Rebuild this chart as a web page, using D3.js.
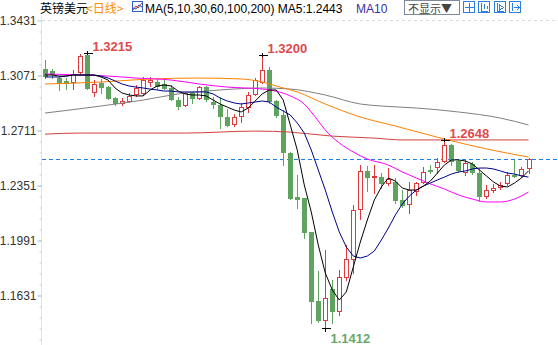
<!DOCTYPE html>
<html>
<head>
<meta charset="utf-8">
<script src="https://cdn.jsdelivr.net/npm/d3@7"></script>
<style>
  body { margin: 0; background: #fff; }
  svg { display: block; font-family: "Liberation Sans", Arial, sans-serif; }
</style>
</head>
<body>
<div id="chart"></div>
<script>
// 1: DATA (GBP/USD daily candles)
const opens = [1.3110, 1.3097, 1.3051, 1.3032, 1.3025, 1.3091, 1.3202, 1.2960, 1.3019, 1.2992,
  1.2920, 1.2888, 1.2901, 1.2947, 1.2953, 1.3025, 1.3025, 1.3012, 1.2986, 1.2907,
  1.2874, 1.2953, 1.2920, 1.2992, 1.2894, 1.2874, 1.2796, 1.2750, 1.2803, 1.2861,
  1.2947, 1.3025, 1.3104, 1.2901, 1.2809, 1.2560, 1.2272, 1.2266, 1.2043, 1.1592,
  1.1467, 1.1670, 1.1526, 1.1749, 1.1867, 1.2194, 1.2443, 1.2403, 1.2403, 1.2364,
  1.2371, 1.2253, 1.2227, 1.2312, 1.2371, 1.2449, 1.2469, 1.2508, 1.2613, 1.2508,
  1.2436, 1.2488, 1.2429, 1.2279, 1.2318, 1.2338, 1.2364, 1.2416, 1.2416, 1.2462];
const highs = [1.3169, 1.3110, 1.3058, 1.3051, 1.3104, 1.3208, 1.3215, 1.3038, 1.3045, 1.2999,
  1.2927, 1.2920, 1.2953, 1.3006, 1.3058, 1.3058, 1.3045, 1.3051, 1.3006, 1.2927,
  1.2960, 1.2960, 1.2999, 1.2999, 1.2927, 1.2927, 1.2848, 1.2816, 1.2888, 1.2960,
  1.3051, 1.3200, 1.3123, 1.2907, 1.2842, 1.2567, 1.2416, 1.2266, 1.2043, 1.1788,
  1.1925, 1.1729, 1.1795, 1.1958, 1.2220, 1.2482, 1.2475, 1.2482, 1.2429, 1.2462,
  1.2397, 1.2318, 1.2371, 1.2371, 1.2469, 1.2482, 1.2528, 1.2648, 1.2619, 1.2515,
  1.2515, 1.2501, 1.2462, 1.2351, 1.2358, 1.2371, 1.2436, 1.2515, 1.2469, 1.2528];
const lows = [1.3051, 1.3051, 1.2973, 1.2979, 1.2979, 1.3078, 1.2979, 1.2934, 1.2953, 1.2914,
  1.2874, 1.2874, 1.2894, 1.2934, 1.2940, 1.2999, 1.2979, 1.2979, 1.2907, 1.2848,
  1.2868, 1.2888, 1.2914, 1.2901, 1.2855, 1.2724, 1.2737, 1.2737, 1.2763, 1.2829,
  1.2940, 1.3019, 1.2888, 1.2796, 1.2482, 1.2259, 1.2200, 1.2004, 1.1448, 1.1454,
  1.1412, 1.1448, 1.1500, 1.1729, 1.1775, 1.2129, 1.2312, 1.2299, 1.2331, 1.2351,
  1.2233, 1.2207, 1.2168, 1.2286, 1.2364, 1.2429, 1.2429, 1.2501, 1.2482, 1.2436,
  1.2416, 1.2423, 1.2246, 1.2266, 1.2305, 1.2325, 1.2351, 1.2403, 1.2403, 1.2429];
const closes = [1.3064, 1.3078, 1.3019, 1.3019, 1.3078, 1.3195, 1.2986, 1.3012, 1.2992, 1.2920,
  1.2888, 1.2901, 1.2934, 1.2986, 1.3038, 1.3038, 1.2999, 1.2986, 1.2914, 1.2868,
  1.2953, 1.2920, 1.2992, 1.2914, 1.2881, 1.2803, 1.2744, 1.2796, 1.2861, 1.2940,
  1.3038, 1.3104, 1.2901, 1.2809, 1.2567, 1.2266, 1.2259, 1.2043, 1.1592, 1.1467,
  1.1611, 1.1526, 1.1749, 1.1867, 1.2187, 1.2443, 1.2403, 1.2410, 1.2364, 1.2390,
  1.2253, 1.2220, 1.2318, 1.2364, 1.2436, 1.2443, 1.2501, 1.2613, 1.2508, 1.2449,
  1.2495, 1.2436, 1.2279, 1.2318, 1.2331, 1.2351, 1.2416, 1.2410, 1.2456, 1.2521];

// moving averages, one value per candle
const ma5 = [1.3071, 1.3071, 1.3064, 1.3064, 1.3071, 1.3071, 1.3071, 1.3071, 1.3058, 1.3038,
  1.2986, 1.2953, 1.2940, 1.2934, 1.2934, 1.2973, 1.2999, 1.3006, 1.2999, 1.2966,
  1.2947, 1.2940, 1.2940, 1.2934, 1.2907, 1.2881, 1.2861, 1.2842, 1.2829, 1.2855,
  1.2901, 1.2947, 1.2973, 1.2973, 1.2907, 1.2744, 1.2580, 1.2351, 1.2174, 1.1958,
  1.1775, 1.1664, 1.1598, 1.1651, 1.1815, 1.1978, 1.2122, 1.2253, 1.2338, 1.2397,
  1.2377, 1.2331, 1.2318, 1.2318, 1.2344, 1.2377, 1.2429, 1.2482, 1.2515, 1.2515,
  1.2508, 1.2488, 1.2449, 1.2410, 1.2371, 1.2344, 1.2338, 1.2364, 1.2397, 1.2443];
const ma10 = [1.3058, 1.3058, 1.3058, 1.3064, 1.3071, 1.3071, 1.3071, 1.3071, 1.3064, 1.3051,
  1.3032, 1.3012, 1.2999, 1.2992, 1.2986, 1.2979, 1.2973, 1.2966, 1.2966, 1.2960,
  1.2960, 1.2960, 1.2960, 1.2960, 1.2947, 1.2920, 1.2901, 1.2888, 1.2881, 1.2888,
  1.2894, 1.2901, 1.2894, 1.2861, 1.2835, 1.2809, 1.2757, 1.2691, 1.2580, 1.2449,
  1.2318, 1.2174, 1.2043, 1.1945, 1.1886, 1.1873, 1.1886, 1.1919, 1.1991, 1.2069,
  1.2155, 1.2227, 1.2279, 1.2318, 1.2344, 1.2364, 1.2384, 1.2403, 1.2423, 1.2436,
  1.2443, 1.2456, 1.2462, 1.2462, 1.2456, 1.2443, 1.2429, 1.2423, 1.2410, 1.2403];
// slower averages, [candle index, value] read at a few points
const ma30 = [[0, 1.3078], [5, 1.3071], [9, 1.3064], [13, 1.3051], [18, 1.3038], [22, 1.3012],
  [26, 1.2992], [31, 1.2979], [35, 1.2934], [37, 1.2881], [38, 1.2829], [39, 1.2770],
  [40, 1.2711], [42, 1.2626], [44, 1.2567], [46, 1.2521], [49, 1.2482], [51, 1.2436],
  [53, 1.2397], [55, 1.2358], [57, 1.2325], [59, 1.2286], [61, 1.2259], [63, 1.2240],
  [65, 1.2240], [67, 1.2259], [69, 1.2305]];
const ma60 = [[0, 1.3012], [8, 1.3025], [15, 1.3045], [22, 1.3051], [28, 1.3045], [31, 1.3025],
  [33, 1.2999], [36, 1.2960], [40, 1.2881], [45, 1.2796], [50, 1.2737], [57, 1.2652],
  [63, 1.2587], [69, 1.2534]];
const ma100 = [[0, 1.2822], [8, 1.2868], [14, 1.2907], [19, 1.2947], [25, 1.2973], [31, 1.2986],
  [35, 1.2979], [40, 1.2940], [45, 1.2881], [48, 1.2868], [53, 1.2855], [59, 1.2829],
  [65, 1.2789], [69, 1.2744]];
const ma200 = [[0, 1.2684], [5, 1.2691], [20, 1.2691], [30, 1.2704], [35, 1.2697], [41, 1.2671],
  [47, 1.2658], [51, 1.2646], [69, 1.2646]];

const yTicks = [1.3431, 1.3071, 1.2711, 1.2351, 1.1991, 1.1631];
const highMarks = [6, 31, 57];
const lowMarks = [40];

// 2: SCALES
const W = 558, H = 345;
const upColor = "#e0393c", downColor = "#5ea35e";
const svg = d3.select("#chart").append("svg").attr("width", W).attr("height", H);

const x = d3.scaleLinear().domain([0, closes.length - 1]).range([45, 528.5]);
const y = d3.scaleLinear().domain([1.1631, 1.3431]).range([295, 20]);
const px = i => Math.round(x(i)) + 0.5;
const py = v => Math.round(y(v)) + 0.5;

// 3: GRID + AXIS
svg.append("line")
  .attr("x1", 42).attr("x2", W).attr("y1", 20.5).attr("y2", 20.5)
  .attr("stroke", "#d9d9d9").attr("stroke-dasharray", "3,3");

svg.append("line")
  .attr("x1", 41.5).attr("x2", 41.5).attr("y1", 16).attr("y2", H)
  .attr("stroke", "#dde6ef");

const minor = d3.range(-4, 30).map(k => 1.1631 + k * 0.0072)
  .filter(v => y(v) > 20 && y(v) < H);
const minorAxis = svg.append("g")
  .attr("transform", "translate(41.5,0.5)")
  .call(d3.axisLeft(y).tickValues(minor).tickSize(2).tickFormat(""));
minorAxis.select(".domain").remove();
minorAxis.selectAll("line").attr("stroke", "#c3ceda");

const yAxis = svg.append("g")
  .attr("transform", "translate(41.5,0.5)")
  .call(d3.axisLeft(y).tickValues(yTicks).tickSize(4).tickPadding(1).tickFormat(d3.format(".4f")));
yAxis.select(".domain").remove();
yAxis.selectAll("line").attr("stroke", "#a9bdd2");
yAxis.selectAll("text")
  .attr("font-size", 12).attr("fill", "#333")
  .attr("font-family", "'Liberation Sans', Arial, sans-serif");

// last price dashed line
svg.append("line")
  .attr("x1", 42).attr("x2", W)
  .attr("y1", py(closes[closes.length - 1])).attr("y2", py(closes[closes.length - 1]))
  .attr("stroke", "#1f7fe6").attr("stroke-dasharray", "4,3");

// 4: CANDLES
const bars = closes.map((c, i) => ({ i, o: opens[i], h: highs[i], l: lows[i], c }));
const g = svg.append("g").attr("shape-rendering", "crispEdges");

bars.forEach(d => {
  const up = d.c >= d.o;
  const col = up ? upColor : downColor;
  const cx = px(d.i);
  const top = Math.round(y(Math.max(d.o, d.c)));
  const bot = Math.round(y(Math.min(d.o, d.c)));
  g.append("line")
    .attr("x1", cx).attr("x2", cx)
    .attr("y1", Math.round(y(d.h))).attr("y2", Math.round(y(d.l)) + 1)
    .attr("stroke", col);
  if (up) {
    g.append("rect")
      .attr("x", cx - 2).attr("y", top + 0.5)
      .attr("width", 4).attr("height", Math.max(1, bot - top))
      .attr("fill", "#fff").attr("stroke", col);
  } else {
    g.append("rect")
      .attr("x", cx - 2.5).attr("y", top)
      .attr("width", 5).attr("height", Math.max(1, bot - top + 1))
      .attr("fill", col);
  }
});

// 5: MOVING AVERAGE LINES
const lineDense = d3.line().x((d, i) => x(i)).y(d => y(d));
const lineSparse = d3.line().x(d => x(d[0])).y(d => y(d[1])).curve(d3.curveMonotoneX);

const maG = svg.append("g").attr("fill", "none").attr("stroke-width", 1);
maG.append("path").datum(ma200).attr("d", lineSparse).attr("stroke", "#d2413c");
maG.append("path").datum(ma100).attr("d", lineSparse).attr("stroke", "#808080");
maG.append("path").datum(ma60).attr("d", lineSparse).attr("stroke", "#ff8000");
maG.append("path").datum(ma30).attr("d", lineSparse).attr("stroke", "#ff00ff");
maG.append("path").datum(ma10).attr("d", lineDense).attr("stroke", "#00008b");
maG.append("path").datum(ma5).attr("d", lineDense).attr("stroke", "#000");

// 6: HIGH / LOW MARKERS
highMarks.forEach(i => {
  const cx = px(i), yy = Math.round(y(highs[i])) + 0.5;
  svg.append("path").attr("d", `M${cx - 4},${yy}H${cx + 5}M${cx},${yy - 3}V${yy + 1}`)
    .attr("stroke", "#000").attr("shape-rendering", "crispEdges");
  svg.append("text").attr("x", cx + 5).attr("y", yy - 3)
    .attr("font-size", 13).attr("font-weight", "bold").attr("fill", "#e0494c")
    .text(d3.format(".4f")(highs[i]));
});
lowMarks.forEach(i => {
  const cx = px(i), yy = Math.round(y(lows[i])) + 0.5;
  svg.append("path").attr("d", `M${cx - 4},${yy}H${cx + 5}M${cx},${yy - 1}V${yy + 3}`)
    .attr("stroke", "#000").attr("shape-rendering", "crispEdges");
  svg.append("text").attr("x", cx + 5).attr("y", yy + 14)
    .attr("font-size", 13).attr("font-weight", "bold").attr("fill", "#6aa86a")
    .text(d3.format(".4f")(lows[i]));
});

// 7: HEADER
const hdr = svg.append("g").attr("font-size", 12);
hdr.append("text").attr("x", 40).attr("y", 13)
  .attr("font-family", "'Noto Sans CJK SC', sans-serif").attr("fill", "#000").text("英镑美元");
hdr.append("text").attr("x", 86).attr("y", 13)
  .attr("font-family", "'Noto Sans CJK SC', sans-serif").attr("fill", "#ff8a00").text("<日线>");
// small chart icon
hdr.append("rect").attr("x", 132.5).attr("y", 1.5).attr("width", 10).attr("height", 10)
  .attr("fill", "#fff").attr("stroke", "#3060c0");
hdr.append("path").attr("d", "M133,10 L136,6 L138,8 L142,3").attr("fill", "none").attr("stroke", "#d03030");
hdr.append("path").attr("d", "M133,8 L136,9 L139,5 L142,7").attr("fill", "none").attr("stroke", "#3050c0");
hdr.append("text").attr("x", 145).attr("y", 13).attr("fill", "#000")
  .text("MA(5,10,30,60,100,200) MA5:" + d3.format(".4f")(ma5[ma5.length - 1]));
hdr.append("text").attr("x", 356).attr("y", 13).attr("fill", "#3b2ea8").text("MA10");

// "不显示" dropdown
hdr.append("rect").attr("x", 404.5).attr("y", 0.5).attr("width", 55).attr("height", 14)
  .attr("fill", "#fff").attr("stroke", "#7d8a99");
hdr.append("text").attr("x", 408).attr("y", 12.5).attr("font-size", 11)
  .attr("font-family", "'Noto Sans CJK SC', sans-serif").attr("fill", "#444").text("不显示▼");

// tool icons
const iconX = [463, 478, 494, 509];
iconX.forEach((ix, k) => {
  const ig = hdr.append("g").attr("stroke", "#2a7fe0").attr("fill", "none").attr("shape-rendering", "crispEdges");
  ig.append("rect").attr("x", ix + 0.5).attr("y", 1.5).attr("width", 11).attr("height", 11);
  if (k === 0) {
    ig.append("path").attr("d", `M${ix + 6.5},3V12M${ix + 2},7.5H${ix + 11}`);
  } else if (k === 1) {
    ig.append("path").attr("d", `M${ix + 3.5},3V11H${ix + 10}M${ix + 6.5},4V9M${ix + 9.5},6V9`);
  } else if (k === 2) {
    ig.append("path").attr("d", `M${ix + 3.5},3V11H${ix + 10}M${ix + 5.5},5L${ix + 9.5},7.5L${ix + 5.5},10Z`);
  } else {
    ig.append("path").attr("d", `M${ix + 3.5},3V11M${ix + 5},7.5H${ix + 10}M${ix + 8},5L${ix + 10.5},7.5L${ix + 8},10`);
  }
});
</script>
</body>
</html>
